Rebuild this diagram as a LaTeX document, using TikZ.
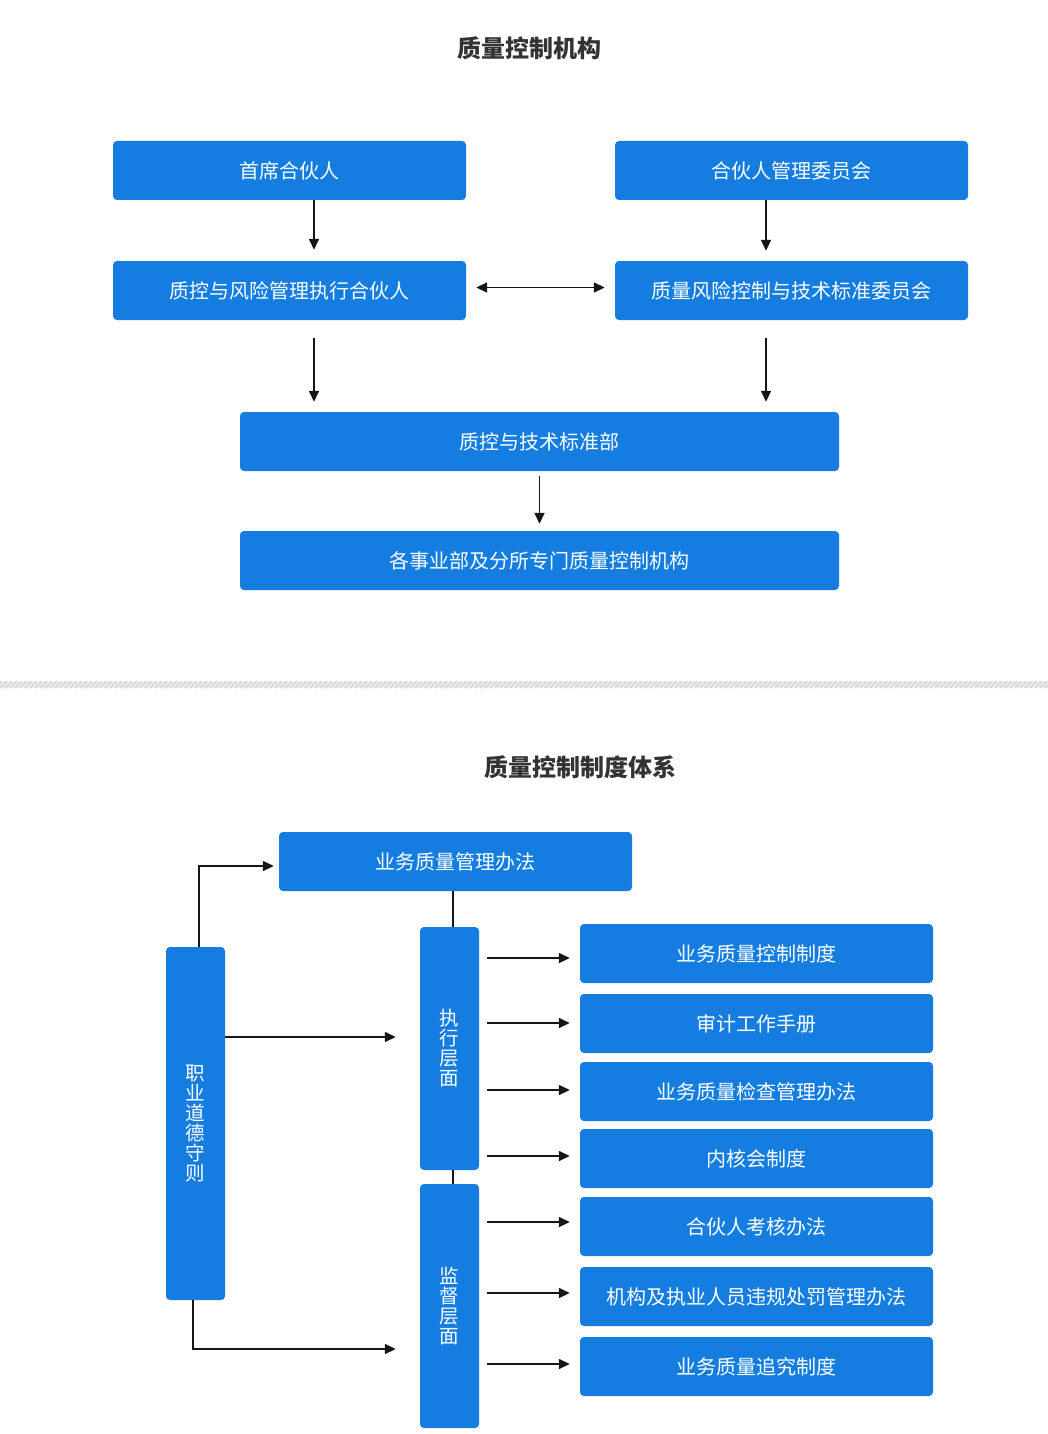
\documentclass[tikz,border=0pt]{standalone}
\usepackage{fontspec}
\setmainfont{Noto Sans CJK SC}
\usetikzlibrary{arrows.meta}
\definecolor{boxblue}{HTML}{147DDF}
\definecolor{titlegray}{HTML}{333333}
\definecolor{linecol}{HTML}{1A1414}
\begin{document}
\begin{tikzpicture}[x=1pt,y=-1pt,
  bx/.style={fill=boxblue, rounded corners=4pt, text=white, inner sep=0pt,
    font=\fontsize{20}{22}\selectfont, minimum height=59pt},
  wide/.style={bx, minimum width=353pt},
  wider/.style={bx, minimum width=599pt},
  vbox/.style={bx, minimum width=59pt, align=center, font=\fontsize{19.5}{20}\selectfont},
  arr/.style={draw=linecol, line width=1.5pt, -{Triangle[length=11pt,width=10pt]}},
  dbl/.style={draw=linecol, line width=1.5pt, {Triangle[length=11pt,width=10pt]}-{Triangle[length=11pt,width=10pt]}},
  ln/.style={draw=linecol, line width=1.5pt},
  ttl/.style={text=titlegray, font=\fontsize{24}{26}\selectfont\bfseries}
]
\useasboundingbox (0,0) rectangle (1048,1434);
\fill[white] (0,0) rectangle (1048,1434);

% ---------- top section ----------
\node[ttl] (t1) at (529,48) {质量控制机构};
\node[wide] (a) at (289.5,170.5) {首席合伙人};
\node[wide] (b) at (791.5,170.5) {合伙人管理委员会};
\node[wide] (c) at (289.5,290.5) {质控与风险管理执行合伙人};
\node[wide] (d) at (791.5,290.5) {质量风险控制与技术标准委员会};
\node[wider] (e) at (539.5,441.5) {质控与技术标准部};
\node[wider] (f) at (539.5,560.5) {各事业部及分所专门质量控制机构};

\draw[arr, shorten >=11pt] ([xshift=24.5pt]a.south) -- ([xshift=24.5pt]c.north);
\draw[arr, shorten >=10pt] ([xshift=-25.5pt]b.south) -- ([xshift=-25.5pt]d.north);
\draw[dbl, shorten <=10pt, shorten >=10pt] ([yshift=3pt]c.east) -- ([yshift=3pt]d.west);
\draw[arr, shorten <=18pt, shorten >=10pt] ([xshift=24.5pt]c.south) -- ([xshift=24.5pt]c.south |- e.north);
\draw[arr, shorten <=18pt, shorten >=10pt] ([xshift=-25.5pt]d.south) -- ([xshift=-25.5pt]d.south |- e.north);
\draw[arr, shorten <=5pt, shorten >=7pt] (e.south) -- (f.north);

% ---------- separator ----------
\begin{scope}
  \clip (0,681) rectangle (1048,688);
  \fill[black!5] (0,681) rectangle (1048,688);
  \foreach \x in {-10,-5,...,1060} \draw[black!15, line width=1.8pt] (\x,688) -- (\x+7,681);
\end{scope}

% ---------- bottom section ----------
\node[ttl] (t2) at (580,767) {质量控制制度体系};
\node[wide] (biz) at (455.5,861.5) {业务质量管理办法};
\node[vbox, minimum height=353pt] (eth) at (195.5,1123.5) {职\\业\\道\\德\\守\\则};
\node[vbox, minimum height=243pt] (exe) at (449.5,1048.5) {执\\行\\层\\面};
\node[vbox, minimum height=244pt] (sup) at (449.5,1306) {监\\督\\层\\面};

\node[wide] (r1) at (756.5,953.5) {业务质量控制制度};
\node[wide] (r2) at (756.5,1023.5) {审计工作手册};
\node[wide] (r3) at (756.5,1091.5) {业务质量检查管理办法};
\node[wide] (r4) at (756.5,1158.5) {内核会制度};
\node[wide] (r5) at (756.5,1226.5) {合伙人考核办法};
\node[wide] (r6) at (756.5,1296.5) {机构及执业人员违规处罚管理办法};
\node[wide] (r7) at (756.5,1366.5) {业务质量追究制度};

% connectors
\draw[ln] ([xshift=-2.5pt]biz.south) -- ([xshift=3.5pt]exe.north);
\draw[ln] ([xshift=3.5pt]exe.south) -- ([xshift=3.5pt]sup.north);

\draw[arr, shorten >=5pt] ([xshift=3.5pt]eth.north) |- ([yshift=-4.5pt]biz.west);
\draw[arr, shorten >=24pt] ([yshift=86.5pt]eth.east) -- ([yshift=86.5pt]eth.east -| exe.west);
\draw[arr, shorten >=24pt] ([xshift=-2.5pt]eth.south) |- ([yshift=-43pt]sup.west);

\draw[arr, shorten <=8pt, shorten >=10pt] ([yshift=-4.5pt]exe.east |- r1.west) -- ([yshift=-4.5pt]r1.west);
\draw[arr, shorten <=8pt, shorten >=10pt] ([yshift=0.5pt]exe.east |- r2.west) -- ([yshift=0.5pt]r2.west);
\draw[arr, shorten <=8pt, shorten >=10pt] ([yshift=1.5pt]exe.east |- r3.west) -- ([yshift=1.5pt]r3.west);
\draw[arr, shorten <=8pt, shorten >=10pt] ([yshift=2.5pt]exe.east |- r4.west) -- ([yshift=2.5pt]r4.west);
\draw[arr, shorten <=8pt, shorten >=10pt] ([yshift=4.5pt]sup.east |- r5.west) -- ([yshift=4.5pt]r5.west);
\draw[arr, shorten <=8pt, shorten >=10pt] ([yshift=3.5pt]sup.east |- r6.west) -- ([yshift=3.5pt]r6.west);
\draw[arr, shorten <=8pt, shorten >=10pt] ([yshift=2.5pt]sup.east |- r7.west) -- ([yshift=2.5pt]r7.west);
\end{tikzpicture}
\end{document}
